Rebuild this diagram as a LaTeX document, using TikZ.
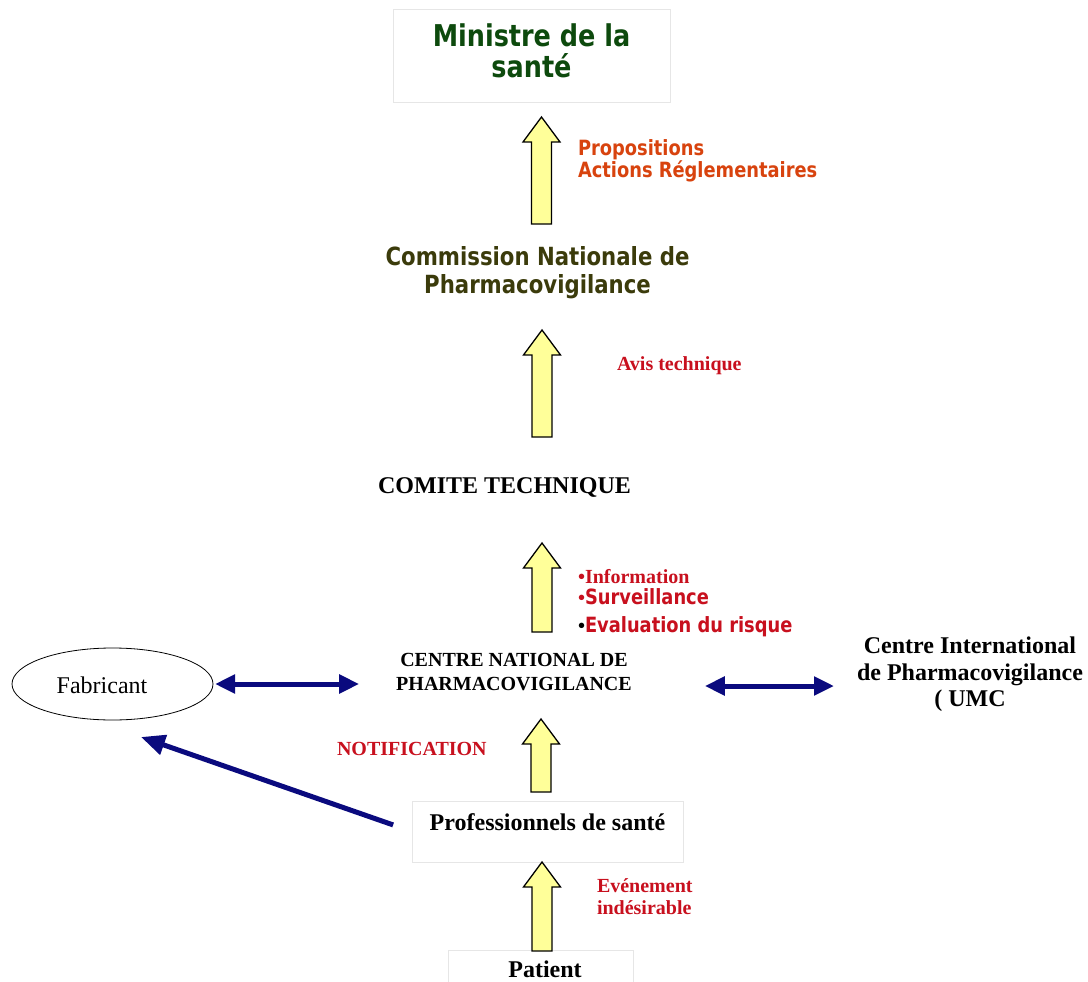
\documentclass[tikz,border=0pt]{standalone}
\usepackage{fontspec}
\setmainfont{Liberation Serif}
\newfontfamily\tahoma[FakeStretch=0.85]{DejaVu Sans}
\usepackage{xcolor}
\usepackage{tikz}
\usetikzlibrary{arrows.meta,calc,shapes.geometric}

\definecolor{minigreen}{HTML}{0D4A0D}
\definecolor{commolive}{HTML}{3B3B0B}
\definecolor{propred}{HTML}{D8430E}
\definecolor{alertred}{HTML}{C8101E}
\definecolor{navyarrow}{HTML}{0A0A7E}
\definecolor{paleyellow}{HTML}{FFFF99}
\definecolor{boxgray}{HTML}{E6E6E6}

% block arrow pointing up, from base #1 to tip #2
\newcommand\yarrow[2]{%
  \draw[fill=paleyellow, line width=1.3pt, line join=miter] let \p1=(#1), \p2=(#2) in
    (\x1-10pt,\y1) -- (\x1-10pt,\y2-25pt) -- (\x1-18.5pt,\y2-25pt) -- (\x2,\y2)
    -- (\x1+18.5pt,\y2-25pt) -- (\x1+10pt,\y2-25pt) -- (\x1+10pt,\y1) -- cycle;}

\newcommand\bul{{\rmfamily\bfseries\fontsize{20}{22}\selectfont\textbullet}}

\begin{document}
\begin{tikzpicture}[
                        x=1pt, y=-1pt,
                        every node/.style={
                                inner sep=0pt,
                                outer sep=0pt,
                            },
                        faintbox/.style={draw=boxgray, line width=0.8pt},
                        navyline/.style={draw=navyarrow, line width=5pt},
                    ]

                    \useasboundingbox[fill=white] (0,0) rectangle (1088,982);

                    \node[faintbox, minimum width=277pt, minimum height=93pt] (minbox) at (531.5,55.5) {};
                    \node[font=\tahoma\bfseries\fontsize{30}{31}\selectfont, text=minigreen, align=center] (ministre) at (531.5,51.1) {Ministre de la\\santé};

                    \node[font=\tahoma\bfseries\fontsize{21}{22}\selectfont, text=propred, align=left, anchor=west] (props) at (578,160.5) {Propositions\\Actions Réglementaires};

                    \node[font=\tahoma\bfseries\fontsize{25}{28}\selectfont, text=commolive, align=center] (cnp) at (537.5,272.4) {Commission Nationale de\\Pharmacovigilance};

                    \node[font=\bfseries\fontsize{20}{22}\selectfont, text=alertred, anchor=base west] (avis) at (617,370) {Avis technique};

                    \node[font=\bfseries\fontsize{24}{26}\selectfont, anchor=base] (comite) at (504.5,493) {COMITE TECHNIQUE};

                    \node[font=\bfseries\fontsize{20}{22}\selectfont, text=alertred, anchor=base west] (info) at (578,583) {\bul Information};
                    \node[font=\tahoma\bfseries\fontsize{21}{22}\selectfont, text=alertred, anchor=base west] (surv) at (578,604) {\bul Surveillance};
                    \node[font=\tahoma\bfseries\fontsize{21}{22}\selectfont, text=alertred, anchor=base west] (eval) at (578,632) {\textcolor{black}{\bul}Evaluation du risque};

                    \node[font=\bfseries\fontsize{20}{24}\selectfont, align=center] (cnpv) at (514,672.4) {CENTRE NATIONAL DE\\PHARMACOVIGILANCE};

                    \node[draw, ellipse, line width=0.8pt, minimum width=201pt, minimum height=72pt] (fab) at (112.5,684) {};
                    \node[font=\fontsize{24}{26}\selectfont, anchor=base] (fabtxt) at (102,693) {Fabricant};

                    \node[font=\bfseries\fontsize{24}{26.5}\selectfont, align=center] (umc) at (970,674.4) {Centre International\\de Pharmacovigilance\\( UMC};

                    \node[font=\bfseries\fontsize{20}{22}\selectfont, text=alertred, anchor=base west] (notif) at (337,755) {NOTIFICATION};

                    \node[faintbox, minimum width=271pt, minimum height=61pt] (probox) at (547.5,831.5) {};
                    \node[font=\bfseries\fontsize{24}{26}\selectfont, anchor=base] (pro) at (547.5,830) {Professionnels de santé};

                    \node[font=\bfseries\fontsize{20}{22}\selectfont, text=alertred, align=left, anchor=west] (evt) at (597,897) {Evénement\\indésirable};

                    \node[faintbox, minimum width=185pt, minimum height=64pt, anchor=north] (patbox) at (540.5,950) {};
                    \node[font=\bfseries\fontsize{24}{26}\selectfont, anchor=base] (patient) at (545,977) {Patient};

                    % yellow arrows
                    \coordinate (up1b) at (541.5,224);
                    \coordinate (up1t) at (541.5,117);
                    \coordinate (up2b) at (542,437);
                    \coordinate (up2t) at (542,330);
                    \coordinate (up3b) at (542,632);
                    \coordinate (up3t) at (542,543);
                    \coordinate (up4b) at (541,792);
                    \coordinate (up4t) at (541,719);
                    \coordinate (up5b) at (542,951);
                    \coordinate (up5t) at (542,862);

                    \yarrow{up1b}{up1t}
                    \yarrow{up2b}{up2t}
                    \yarrow{up3b}{up3t}
                    \yarrow{up4b}{up4t}
                    \yarrow{up5b}{up5t}

                    % exchanges
                    \draw[navyline, {Triangle[length=20pt,width=18pt]}-{Triangle[length=20pt,width=18pt]}, shorten <=2pt, shorten >=37pt]
                    (fab.east) -- (fab.east -| cnpv.west);
                    \draw[navyline, {Triangle[length=20pt,width=18pt]}-{Triangle[length=20pt,width=18pt]}, shorten <=73pt, shorten >=23pt]
                    ([yshift=-2pt]cnpv.east |- fab.east) -- ([yshift=-2pt]umc.west |- fab.east);

                    \coordinate (fabtip) at (141,737);
                    \draw[navyline, -{Triangle[length=24pt,width=20pt]}, shorten <=20pt] (probox.west) -- (fabtip);
                \end{tikzpicture}
\end{document}
